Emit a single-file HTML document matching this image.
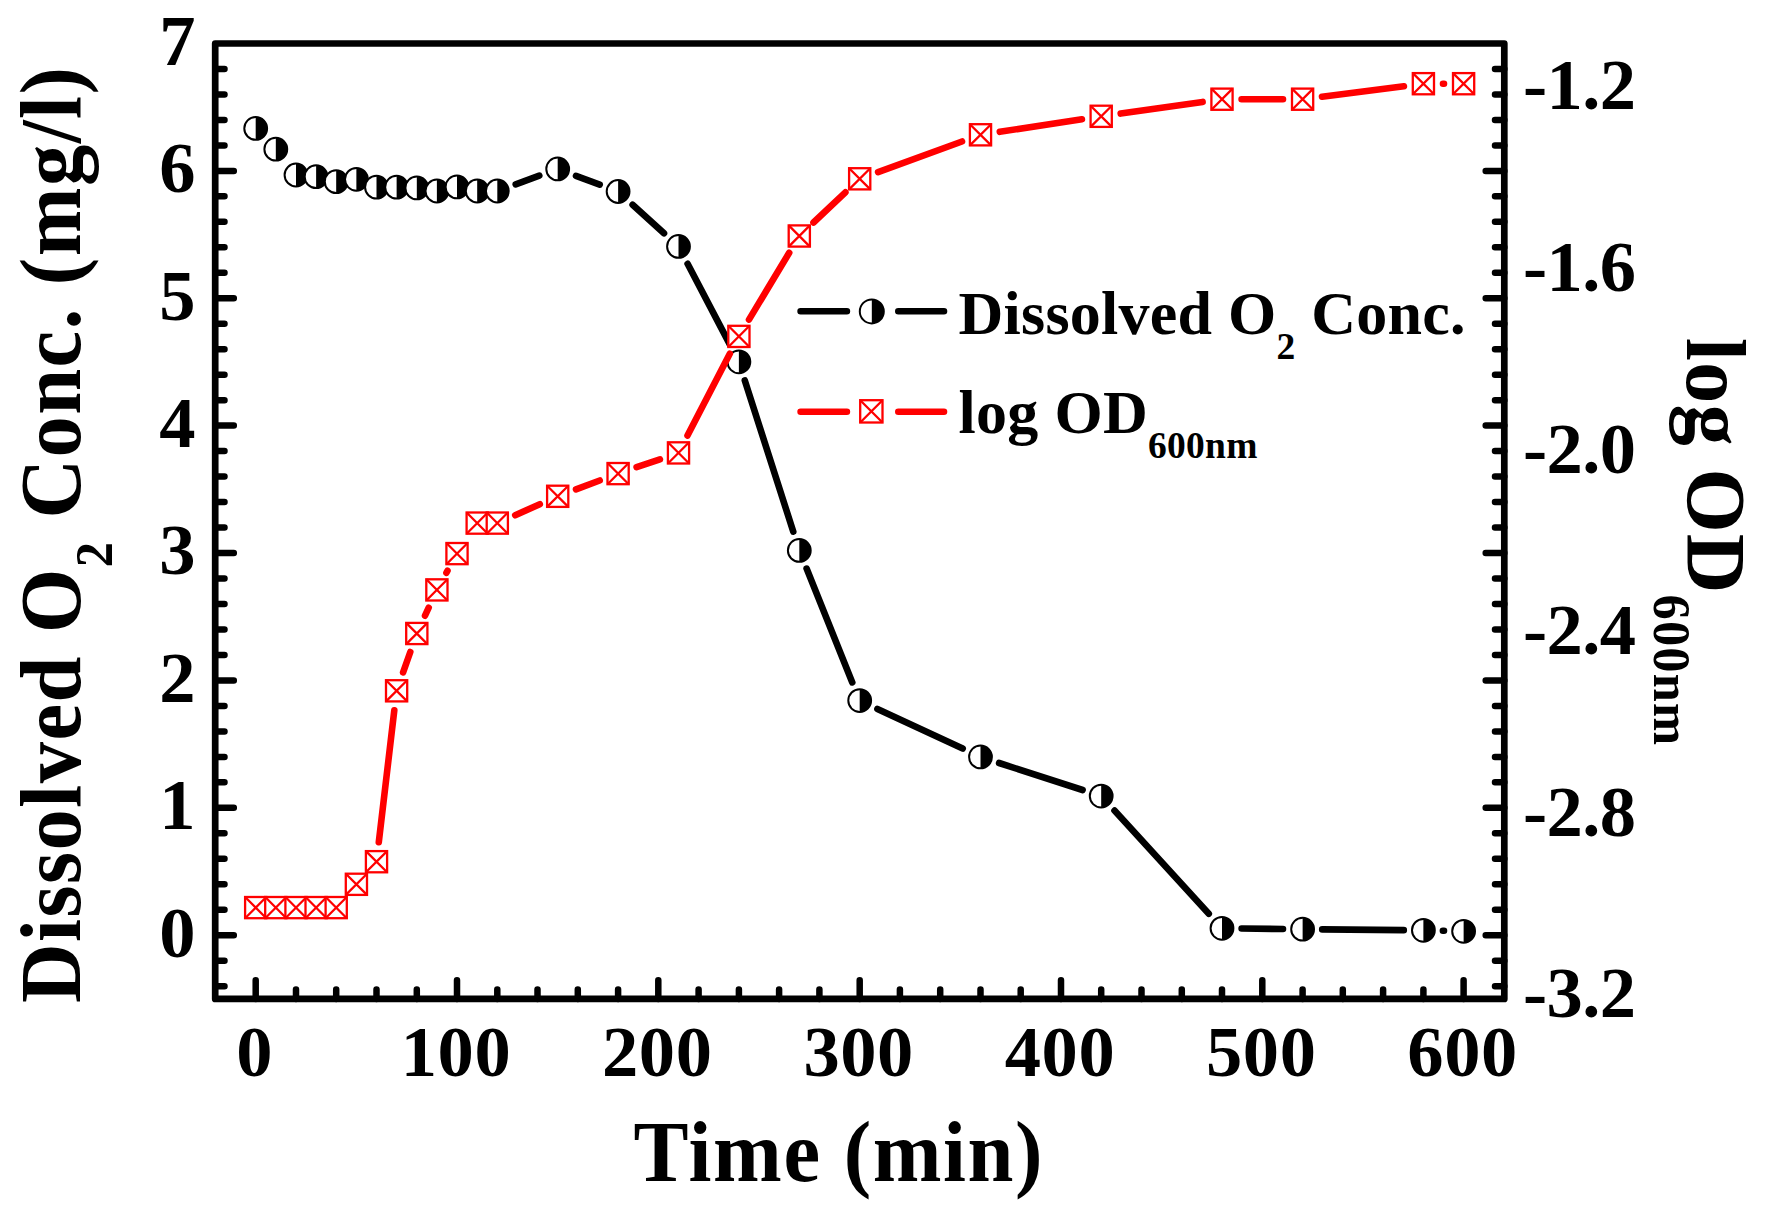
<!DOCTYPE html>
<html lang="en"><head><meta charset="utf-8"><title>Dissolved O2 Conc. and log OD600nm vs Time</title>
<style>html,body{margin:0;padding:0;background:#fff;}body{width:1769px;height:1214px;overflow:hidden;}svg{display:block;}</style>
</head><body>
<svg width="1769" height="1214" viewBox="0 0 1769 1214" font-family="'Liberation Serif', 'Times New Roman', serif" font-weight="bold" fill="#000">
<rect width="1769" height="1214" fill="#fff"/>
<path d="M215.2 986.2h9.3M1504.3 986.2h-9.3M215.2 960.7h9.3M1504.3 960.7h-9.3M215.2 935.2h18.6M1504.3 935.2h-18.6M215.2 909.7h9.3M1504.3 909.7h-9.3M215.2 884.2h9.3M1504.3 884.2h-9.3M215.2 858.8h9.3M1504.3 858.8h-9.3M215.2 833.3h9.3M1504.3 833.3h-9.3M215.2 807.8h18.6M1504.3 807.8h-18.6M215.2 782.3h9.3M1504.3 782.3h-9.3M215.2 756.9h9.3M1504.3 756.9h-9.3M215.2 731.4h9.3M1504.3 731.4h-9.3M215.2 705.9h9.3M1504.3 705.9h-9.3M215.2 680.4h18.6M1504.3 680.4h-18.6M215.2 654.9h9.3M1504.3 654.9h-9.3M215.2 629.5h9.3M1504.3 629.5h-9.3M215.2 604.0h9.3M1504.3 604.0h-9.3M215.2 578.5h9.3M1504.3 578.5h-9.3M215.2 553.0h18.6M1504.3 553.0h-18.6M215.2 527.6h9.3M1504.3 527.6h-9.3M215.2 502.1h9.3M1504.3 502.1h-9.3M215.2 476.6h9.3M1504.3 476.6h-9.3M215.2 451.1h9.3M1504.3 451.1h-9.3M215.2 425.6h18.6M1504.3 425.6h-18.6M215.2 400.2h9.3M1504.3 400.2h-9.3M215.2 374.7h9.3M1504.3 374.7h-9.3M215.2 349.2h9.3M1504.3 349.2h-9.3M215.2 323.7h9.3M1504.3 323.7h-9.3M215.2 298.2h18.6M1504.3 298.2h-18.6M215.2 272.8h9.3M1504.3 272.8h-9.3M215.2 247.3h9.3M1504.3 247.3h-9.3M215.2 221.8h9.3M1504.3 221.8h-9.3M215.2 196.3h9.3M1504.3 196.3h-9.3M215.2 170.9h18.6M1504.3 170.9h-18.6M215.2 145.4h9.3M1504.3 145.4h-9.3M215.2 119.9h9.3M1504.3 119.9h-9.3M215.2 94.4h9.3M1504.3 94.4h-9.3M215.2 68.9h9.3M1504.3 68.9h-9.3M255.7 998.9v-18.6M296.0 998.9v-9.3M336.2 998.9v-9.3M376.5 998.9v-9.3M416.8 998.9v-9.3M457.0 998.9v-18.6M497.3 998.9v-9.3M537.5 998.9v-9.3M577.8 998.9v-9.3M618.1 998.9v-9.3M658.3 998.9v-18.6M698.6 998.9v-9.3M738.9 998.9v-9.3M779.1 998.9v-9.3M819.4 998.9v-9.3M859.7 998.9v-18.6M899.9 998.9v-9.3M940.2 998.9v-9.3M980.5 998.9v-9.3M1020.7 998.9v-9.3M1061.0 998.9v-18.6M1101.2 998.9v-9.3M1141.5 998.9v-9.3M1181.8 998.9v-9.3M1222.0 998.9v-9.3M1262.3 998.9v-18.6M1302.6 998.9v-9.3M1342.8 998.9v-9.3M1383.1 998.9v-9.3M1423.4 998.9v-9.3M1463.6 998.9v-18.6" stroke="#000" stroke-width="6.5" stroke-linecap="round" fill="none"/>
<rect x="215.2" y="43.5" width="1289.1" height="955.4" fill="none" stroke="#000" stroke-width="6.7" stroke-linejoin="round"/>
<path d="M515.7 184.3L539.3 175.6M576.0 175.8L599.7 184.6M632.6 204.7L664.0 233.2M687.6 263.8L729.8 344.4M744.8 380.5L793.3 531.7M806.6 568.6L852.3 682.4M877.4 708.9L962.7 748.6M999.1 763.0L1082.6 790.0M1114.5 810.6L1208.8 913.8M1241.6 928.5L1283.0 929.0M1322.2 929.4L1403.8 930.1M1442.9 930.8L1444.0 930.8" stroke="#000" stroke-width="6.6" stroke-linecap="round" fill="none"/>
<circle cx="255.7" cy="128.4" r="11.4" fill="#fff" stroke="#000" stroke-width="2.0"/><path d="M255.7 117.0A11.4 11.4 0 0 1 255.7 139.8Z" fill="#000"/><circle cx="275.8" cy="149.2" r="11.4" fill="#fff" stroke="#000" stroke-width="2.0"/><path d="M275.8 137.8A11.4 11.4 0 0 1 275.8 160.6Z" fill="#000"/><circle cx="296.0" cy="175.0" r="11.4" fill="#fff" stroke="#000" stroke-width="2.0"/><path d="M296.0 163.6A11.4 11.4 0 0 1 296.0 186.4Z" fill="#000"/><circle cx="316.1" cy="176.7" r="11.4" fill="#fff" stroke="#000" stroke-width="2.0"/><path d="M316.1 165.3A11.4 11.4 0 0 1 316.1 188.1Z" fill="#000"/><circle cx="336.2" cy="181.7" r="11.4" fill="#fff" stroke="#000" stroke-width="2.0"/><path d="M336.2 170.3A11.4 11.4 0 0 1 336.2 193.1Z" fill="#000"/><circle cx="356.4" cy="179.3" r="11.4" fill="#fff" stroke="#000" stroke-width="2.0"/><path d="M356.4 167.9A11.4 11.4 0 0 1 356.4 190.7Z" fill="#000"/><circle cx="376.5" cy="187.2" r="11.4" fill="#fff" stroke="#000" stroke-width="2.0"/><path d="M376.5 175.8A11.4 11.4 0 0 1 376.5 198.6Z" fill="#000"/><circle cx="396.6" cy="187.2" r="11.4" fill="#fff" stroke="#000" stroke-width="2.0"/><path d="M396.6 175.8A11.4 11.4 0 0 1 396.6 198.6Z" fill="#000"/><circle cx="416.8" cy="187.9" r="11.4" fill="#fff" stroke="#000" stroke-width="2.0"/><path d="M416.8 176.5A11.4 11.4 0 0 1 416.8 199.3Z" fill="#000"/><circle cx="436.9" cy="191.0" r="11.4" fill="#fff" stroke="#000" stroke-width="2.0"/><path d="M436.9 179.6A11.4 11.4 0 0 1 436.9 202.4Z" fill="#000"/><circle cx="457.0" cy="186.9" r="11.4" fill="#fff" stroke="#000" stroke-width="2.0"/><path d="M457.0 175.5A11.4 11.4 0 0 1 457.0 198.3Z" fill="#000"/><circle cx="477.2" cy="191.0" r="11.4" fill="#fff" stroke="#000" stroke-width="2.0"/><path d="M477.2 179.6A11.4 11.4 0 0 1 477.2 202.4Z" fill="#000"/><circle cx="497.3" cy="191.0" r="11.4" fill="#fff" stroke="#000" stroke-width="2.0"/><path d="M497.3 179.6A11.4 11.4 0 0 1 497.3 202.4Z" fill="#000"/><circle cx="557.7" cy="168.9" r="11.4" fill="#fff" stroke="#000" stroke-width="2.0"/><path d="M557.7 157.5A11.4 11.4 0 0 1 557.7 180.3Z" fill="#000"/><circle cx="618.1" cy="191.5" r="11.4" fill="#fff" stroke="#000" stroke-width="2.0"/><path d="M618.1 180.1A11.4 11.4 0 0 1 618.1 202.9Z" fill="#000"/><circle cx="678.5" cy="246.4" r="11.4" fill="#fff" stroke="#000" stroke-width="2.0"/><path d="M678.5 235.0A11.4 11.4 0 0 1 678.5 257.8Z" fill="#000"/><circle cx="738.9" cy="361.8" r="11.4" fill="#fff" stroke="#000" stroke-width="2.0"/><path d="M738.9 350.4A11.4 11.4 0 0 1 738.9 373.2Z" fill="#000"/><circle cx="799.3" cy="550.4" r="11.4" fill="#fff" stroke="#000" stroke-width="2.0"/><path d="M799.3 539.0A11.4 11.4 0 0 1 799.3 561.8Z" fill="#000"/><circle cx="859.7" cy="700.6" r="11.4" fill="#fff" stroke="#000" stroke-width="2.0"/><path d="M859.7 689.2A11.4 11.4 0 0 1 859.7 712.0Z" fill="#000"/><circle cx="980.5" cy="756.9" r="11.4" fill="#fff" stroke="#000" stroke-width="2.0"/><path d="M980.5 745.5A11.4 11.4 0 0 1 980.5 768.3Z" fill="#000"/><circle cx="1101.2" cy="796.1" r="11.4" fill="#fff" stroke="#000" stroke-width="2.0"/><path d="M1101.2 784.7A11.4 11.4 0 0 1 1101.2 807.5Z" fill="#000"/><circle cx="1222.0" cy="928.3" r="11.4" fill="#fff" stroke="#000" stroke-width="2.0"/><path d="M1222.0 916.9A11.4 11.4 0 0 1 1222.0 939.7Z" fill="#000"/><circle cx="1302.6" cy="929.2" r="11.4" fill="#fff" stroke="#000" stroke-width="2.0"/><path d="M1302.6 917.8A11.4 11.4 0 0 1 1302.6 940.6Z" fill="#000"/><circle cx="1423.4" cy="930.3" r="11.4" fill="#fff" stroke="#000" stroke-width="2.0"/><path d="M1423.4 918.9A11.4 11.4 0 0 1 1423.4 941.7Z" fill="#000"/><circle cx="1463.6" cy="931.3" r="11.4" fill="#fff" stroke="#000" stroke-width="2.0"/><path d="M1463.6 919.9A11.4 11.4 0 0 1 1463.6 942.7Z" fill="#000"/>
<path d="M378.8 842.2L394.3 710.3M403.1 672.3L410.3 652.0M425.0 615.7L428.7 607.7M446.4 572.8L447.5 570.7M515.2 515.2L539.8 504.2M576.0 489.4L599.7 480.5M636.6 467.2L659.9 459.3M687.5 435.5L729.8 353.8M749.0 319.6L789.2 252.8M813.5 222.5L845.4 192.3M878.1 172.1L962.0 141.5M999.8 131.8L1081.9 119.3M1120.7 113.6L1202.6 101.9M1241.6 99.2L1283.0 99.2M1322.0 96.7L1403.9 86.2M1443.0 83.7L1444.0 83.7" stroke="#f00" stroke-width="6.6" stroke-linecap="round" fill="none"/>
<rect x="245.1" y="897.0" width="21.2" height="21.2" fill="#fff" stroke="#f00" stroke-width="2.3"/><path d="M245.1 897.0L266.3 918.2M245.1 918.2L266.3 897.0" stroke="#f00" stroke-width="2.3" fill="none"/><rect x="265.2" y="897.0" width="21.2" height="21.2" fill="#fff" stroke="#f00" stroke-width="2.3"/><path d="M265.2 897.0L286.4 918.2M265.2 918.2L286.4 897.0" stroke="#f00" stroke-width="2.3" fill="none"/><rect x="285.4" y="897.0" width="21.2" height="21.2" fill="#fff" stroke="#f00" stroke-width="2.3"/><path d="M285.4 897.0L306.6 918.2M285.4 918.2L306.6 897.0" stroke="#f00" stroke-width="2.3" fill="none"/><rect x="305.5" y="897.0" width="21.2" height="21.2" fill="#fff" stroke="#f00" stroke-width="2.3"/><path d="M305.5 897.0L326.7 918.2M305.5 918.2L326.7 897.0" stroke="#f00" stroke-width="2.3" fill="none"/><rect x="325.6" y="897.0" width="21.2" height="21.2" fill="#fff" stroke="#f00" stroke-width="2.3"/><path d="M325.6 897.0L346.8 918.2M325.6 918.2L346.8 897.0" stroke="#f00" stroke-width="2.3" fill="none"/><rect x="345.8" y="873.7" width="21.2" height="21.2" fill="#fff" stroke="#f00" stroke-width="2.3"/><path d="M345.8 873.7L367.0 894.9M345.8 894.9L367.0 873.7" stroke="#f00" stroke-width="2.3" fill="none"/><rect x="365.9" y="851.1" width="21.2" height="21.2" fill="#fff" stroke="#f00" stroke-width="2.3"/><path d="M365.9 851.1L387.1 872.3M365.9 872.3L387.1 851.1" stroke="#f00" stroke-width="2.3" fill="none"/><rect x="386.0" y="680.2" width="21.2" height="21.2" fill="#fff" stroke="#f00" stroke-width="2.3"/><path d="M386.0 680.2L407.2 701.4M386.0 701.4L407.2 680.2" stroke="#f00" stroke-width="2.3" fill="none"/><rect x="406.2" y="622.9" width="21.2" height="21.2" fill="#fff" stroke="#f00" stroke-width="2.3"/><path d="M406.2 622.9L427.4 644.1M406.2 644.1L427.4 622.9" stroke="#f00" stroke-width="2.3" fill="none"/><rect x="426.3" y="579.3" width="21.2" height="21.2" fill="#fff" stroke="#f00" stroke-width="2.3"/><path d="M426.3 579.3L447.5 600.5M426.3 600.5L447.5 579.3" stroke="#f00" stroke-width="2.3" fill="none"/><rect x="446.4" y="543.0" width="21.2" height="21.2" fill="#fff" stroke="#f00" stroke-width="2.3"/><path d="M446.4 543.0L467.6 564.2M446.4 564.2L467.6 543.0" stroke="#f00" stroke-width="2.3" fill="none"/><rect x="466.6" y="512.5" width="21.2" height="21.2" fill="#fff" stroke="#f00" stroke-width="2.3"/><path d="M466.6 512.5L487.8 533.7M466.6 533.7L487.8 512.5" stroke="#f00" stroke-width="2.3" fill="none"/><rect x="486.7" y="512.5" width="21.2" height="21.2" fill="#fff" stroke="#f00" stroke-width="2.3"/><path d="M486.7 512.5L507.9 533.7M486.7 533.7L507.9 512.5" stroke="#f00" stroke-width="2.3" fill="none"/><rect x="547.1" y="485.7" width="21.2" height="21.2" fill="#fff" stroke="#f00" stroke-width="2.3"/><path d="M547.1 485.7L568.3 506.9M547.1 506.9L568.3 485.7" stroke="#f00" stroke-width="2.3" fill="none"/><rect x="607.5" y="463.0" width="21.2" height="21.2" fill="#fff" stroke="#f00" stroke-width="2.3"/><path d="M607.5 463.0L628.7 484.2M607.5 484.2L628.7 463.0" stroke="#f00" stroke-width="2.3" fill="none"/><rect x="667.9" y="442.3" width="21.2" height="21.2" fill="#fff" stroke="#f00" stroke-width="2.3"/><path d="M667.9 442.3L689.1 463.5M667.9 463.5L689.1 442.3" stroke="#f00" stroke-width="2.3" fill="none"/><rect x="728.3" y="325.8" width="21.2" height="21.2" fill="#fff" stroke="#f00" stroke-width="2.3"/><path d="M728.3 325.8L749.5 347.0M728.3 347.0L749.5 325.8" stroke="#f00" stroke-width="2.3" fill="none"/><rect x="788.7" y="225.4" width="21.2" height="21.2" fill="#fff" stroke="#f00" stroke-width="2.3"/><path d="M788.7 225.4L809.9 246.6M788.7 246.6L809.9 225.4" stroke="#f00" stroke-width="2.3" fill="none"/><rect x="849.1" y="168.2" width="21.2" height="21.2" fill="#fff" stroke="#f00" stroke-width="2.3"/><path d="M849.1 168.2L870.3 189.4M849.1 189.4L870.3 168.2" stroke="#f00" stroke-width="2.3" fill="none"/><rect x="969.9" y="124.2" width="21.2" height="21.2" fill="#fff" stroke="#f00" stroke-width="2.3"/><path d="M969.9 124.2L991.1 145.4M969.9 145.4L991.1 124.2" stroke="#f00" stroke-width="2.3" fill="none"/><rect x="1090.6" y="105.7" width="21.2" height="21.2" fill="#fff" stroke="#f00" stroke-width="2.3"/><path d="M1090.6 105.7L1111.8 126.9M1090.6 126.9L1111.8 105.7" stroke="#f00" stroke-width="2.3" fill="none"/><rect x="1211.4" y="88.6" width="21.2" height="21.2" fill="#fff" stroke="#f00" stroke-width="2.3"/><path d="M1211.4 88.6L1232.6 109.8M1211.4 109.8L1232.6 88.6" stroke="#f00" stroke-width="2.3" fill="none"/><rect x="1292.0" y="88.6" width="21.2" height="21.2" fill="#fff" stroke="#f00" stroke-width="2.3"/><path d="M1292.0 88.6L1313.2 109.8M1292.0 109.8L1313.2 88.6" stroke="#f00" stroke-width="2.3" fill="none"/><rect x="1412.8" y="73.1" width="21.2" height="21.2" fill="#fff" stroke="#f00" stroke-width="2.3"/><path d="M1412.8 73.1L1434.0 94.3M1412.8 94.3L1434.0 73.1" stroke="#f00" stroke-width="2.3" fill="none"/><rect x="1453.0" y="73.1" width="21.2" height="21.2" fill="#fff" stroke="#f00" stroke-width="2.3"/><path d="M1453.0 73.1L1474.2 94.3M1453.0 94.3L1474.2 73.1" stroke="#f00" stroke-width="2.3" fill="none"/>
<path d="M800.6 311.3H846.9M898.3 311.3H944" stroke="#000" stroke-width="6.6" stroke-linecap="round"/>
<path d="M800.6 411.8H846.9M898.3 411.8H944" stroke="#f00" stroke-width="6.6" stroke-linecap="round"/>
<circle cx="871.8" cy="311.4" r="12.0" fill="#fff" stroke="#000" stroke-width="2.0"/><path d="M871.8 299.4A12.0 12.0 0 0 1 871.8 323.4Z" fill="#000"/>
<rect x="860.2" y="400.2" width="22.3" height="22.3" fill="#fff" stroke="#f00" stroke-width="2.3"/><path d="M860.2 400.2L882.5 422.5M860.2 422.5L882.5 400.2" stroke="#f00" stroke-width="2.3" fill="none"/>
<text x="958.5" y="333.8" font-size="62" textLength="507" lengthAdjust="spacing">Dissolved O<tspan font-size="37.5" dy="25">2</tspan><tspan dy="-25"> Conc.</tspan></text>
<text x="958.5" y="433.2" font-size="62" textLength="299" lengthAdjust="spacing">log OD<tspan font-size="37.5" dy="25">600nm</tspan></text>
<text x="195.5" y="956.5" font-size="72.5" text-anchor="end">0</text>
<text x="195.5" y="829.1" font-size="72.5" text-anchor="end">1</text>
<text x="195.5" y="701.7" font-size="72.5" text-anchor="end">2</text>
<text x="195.5" y="574.3" font-size="72.5" text-anchor="end">3</text>
<text x="195.5" y="446.9" font-size="72.5" text-anchor="end">4</text>
<text x="195.5" y="319.6" font-size="72.5" text-anchor="end">5</text>
<text x="195.5" y="192.2" font-size="72.5" text-anchor="end">6</text>
<text x="195.5" y="64.8" font-size="72.5" text-anchor="end">7</text>
<text x="254.7" y="1076.3" font-size="72.5" text-anchor="middle" letter-spacing="0.6">0</text>
<text x="456.0" y="1076.3" font-size="72.5" text-anchor="middle" letter-spacing="0.6">100</text>
<text x="657.3" y="1076.3" font-size="72.5" text-anchor="middle" letter-spacing="0.6">200</text>
<text x="858.7" y="1076.3" font-size="72.5" text-anchor="middle" letter-spacing="0.6">300</text>
<text x="1060.0" y="1076.3" font-size="72.5" text-anchor="middle" letter-spacing="0.6">400</text>
<text x="1261.3" y="1076.3" font-size="72.5" text-anchor="middle" letter-spacing="0.6">500</text>
<text x="1462.6" y="1076.3" font-size="72.5" text-anchor="middle" letter-spacing="0.6">600</text>
<text x="1523" y="109.4" font-size="72.5" textLength="113" lengthAdjust="spacing">-1.2</text>
<text x="1523" y="291.0" font-size="72.5" textLength="113" lengthAdjust="spacing">-1.6</text>
<text x="1523" y="472.6" font-size="72.5" textLength="113" lengthAdjust="spacing">-2.0</text>
<text x="1523" y="654.2" font-size="72.5" textLength="113" lengthAdjust="spacing">-2.4</text>
<text x="1523" y="835.8" font-size="72.5" textLength="113" lengthAdjust="spacing">-2.8</text>
<text x="1523" y="1017.4" font-size="72.5" textLength="113" lengthAdjust="spacing">-3.2</text>
<text transform="translate(633.5 1181) scale(1 1.04)" font-size="82.5" textLength="409" lengthAdjust="spacing">Time (min)</text>
<text transform="translate(79.8 1003) rotate(-90) scale(1 1.04)" font-size="82.5" textLength="936" lengthAdjust="spacing">Dissolved O<tspan font-size="50.5" dy="31.2">2</tspan><tspan dy="-31.2"> Conc. (mg/l)</tspan></text>
<text transform="translate(1686.8 338) rotate(90) scale(1 1.03)" font-size="82.5" textLength="407" lengthAdjust="spacing">log OD<tspan font-size="50.5" dy="31.4">600nm</tspan></text>
</svg>
</body></html>
